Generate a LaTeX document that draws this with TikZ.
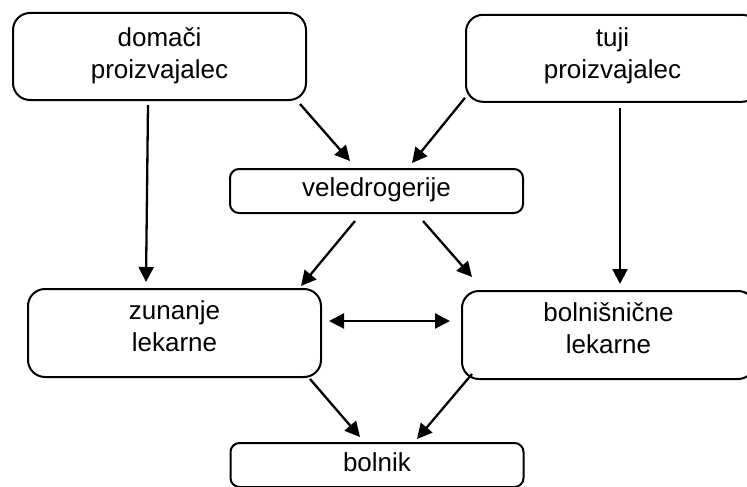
\documentclass[tikz,border=0pt]{standalone}
\usepackage{fontspec}
\setmainfont{Liberation Sans}
\usetikzlibrary{arrows.meta,calc}
\newcommand\hA{\rule{0pt}{23.4pt}}
\newcommand\dD[1]{\rule[-#1pt]{0pt}{#1pt}}
\begin{document}
\begin{tikzpicture}[x=1pt,y=-1pt,
  box/.style={draw,line width=2pt,minimum width=293pt,inner sep=0pt,align=center,font=\fontsize{26}{32}\selectfont},
  tall/.style={box,minimum height=87pt,rounded corners=17pt},
  short/.style={box,minimum height=44pt,rounded corners=9pt},
  arr/.style={line width=2.3pt,-{Triangle[length=15pt,width=15pt]}},
  darr/.style={line width=2.3pt,{Triangle[length=15pt,width=15pt]}-{Triangle[length=15pt,width=15pt]}}]
\useasboundingbox (0,0) rectangle (747,487);
\node[tall] (dom) at (159.5,56.5) {\hA domači\\proizvajalec\dD{12.4}};
\node[tall] (tuj) at (612.5,58.3) {\hA tuji\\proizvajalec\dD{14.6}};
\node[short] (vel) at (376.5,191) {\hA veledrogerije\dD{12}};
\node[tall,minimum height=88pt] (zun) at (174.5,333) {\hA zunanje\\lekarne\dD{18.8}};
\node[tall,minimum height=88pt] (bol) at (608.5,335) {\hA bolnišnične\\lekarne\dD{18}};
\node[short] (pat) at (377,465) {\hA bolnik\dD{10}};
\draw[arr] ($(dom.south)+(-11.5,4)$) -- ($(zun.north)+(-28.5,-6)$);
\draw[arr] ($(tuj.south)+(7.5,5)$) -- ($(bol.north)+(11.5,-6)$);
\draw[arr] ($(dom.south east)+(-7,3)$) -- ($(vel.north)+(-26.5,-7)$);
\draw[arr] ($(tuj.south west)+(0,-5)$) -- ($(vel.north)+(35.5,-5)$);
\draw[arr] ($(vel.south)+(-21.5,7)$) -- ($(zun.north east)+(-21,-2)$);
\draw[arr] ($(vel.south)+(46.5,7)$) -- ($(bol.north west)+(11,-13)$);
\draw[darr] ($(zun.east)+(7,-12)$) -- ($(bol.west)+(-11,-14)$);
\draw[arr] ($(zun.south east)+(-12,1)$) -- ($(pat.north)+(-17,-5)$);
\draw[arr] ($(bol.south west)+(11,-6)$) -- ($(pat.north)+(40,-3)$);
\end{tikzpicture}
\end{document}
